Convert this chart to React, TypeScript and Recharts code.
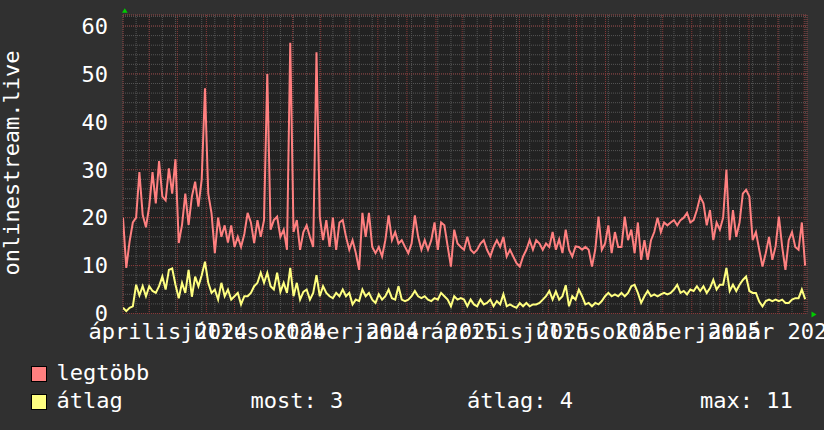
import React from 'react'
import { LineChart, Line, XAxis, YAxis, CartesianGrid } from 'recharts'

const FONT = '"DejaVu Sans Mono", monospace'
const DAY_MS = 86400000
const START_UTC = Date.UTC(2024, 2, 4)
const RANGE_DAYS = 730
const STEP_DAYS = 3.5
const Y_MAX = 62.3

// legtöbb (max) series, one value per 3.5 days from 2024-03-04
const legtobb = [
    20, 9.5, 15, 19, 20, 29.5, 20.6, 18, 22.4, 29.5,
    23, 31.8, 24.4, 23.6, 30.3, 25, 32.2, 14.7, 18.5, 25,
    18.5, 24.4, 27.5, 22.3, 28, 47, 25, 20.9, 12.6, 20,
    16, 18.4, 14.8, 18.4, 13.9, 16, 13.9, 16.6, 21, 19,
    14.7, 19.5, 16, 19.5, 50, 17.5, 19.5, 20.2, 16, 17.5,
    13.3, 56.5, 17, 19.5, 13.3, 17, 18.4, 16, 13.9, 54.5,
    20.2, 15.3, 19.5, 13.9, 20, 13.3, 19, 19.5, 16, 13.3,
    15.3, 12.6, 9.1, 21, 16, 21, 13.9, 12.6, 13.9, 11.9,
    15.3, 20.5, 15.3, 17, 14.6, 15.3, 13.9, 12.6, 14.6, 20.5,
    16, 13.3, 15.3, 13.3, 15.3, 19, 13.3, 19, 18.4, 14,
    9.8, 17.5, 14.6, 13.9, 13.3, 16, 13.3, 12.6, 13.3, 14.6,
    15.3, 13.3, 11.9, 13.9, 15.3, 13.9, 16, 11.9, 13.3, 11.9,
    10.5, 9.8, 11.9, 13.3, 15.3, 13.3, 15.3, 14.6, 13.3, 14.6,
    13.9, 17, 13.3, 15.5, 12.6, 17.5, 13.3, 11.9, 14, 13.9,
    13.3, 13.9, 13.3, 9.8, 13.3, 20.2, 13.3, 14.6, 18.4, 12.6,
    17, 13.9, 13.9, 20.2, 15.3, 17.5, 12.6, 19, 11.2, 15.3,
    11.2, 15.3, 17, 20, 17, 19, 18.4, 19, 19.5, 18.4,
    19.5, 20, 21, 19, 19.5, 21.6, 24.4, 23, 18.4, 21.6,
    15.3, 19, 17.5, 20, 30, 15.3, 21.6, 16, 19, 25,
    25.8, 24.4, 15.3, 17, 13.3, 9.8, 12.6, 16, 11.2, 14,
    20.2, 13.9, 9.1, 15.3, 17, 13.9, 13.3, 19, 10,
]

// átlag (average) series
const atlag = [
    1.2, 0.5, 1.2, 1.5, 6, 3.8, 5.7, 3.6, 5.7, 4.7,
    4.3, 5.7, 7.7, 5, 9.1, 9.4, 6, 3.2, 6.4, 4.3,
    9.1, 3.5, 7.7, 5.7, 8, 10.8, 6.4, 4.3, 5, 2.9,
    6.4, 3.6, 5, 2.9, 3.6, 4.3, 1.9, 3.6, 3.6, 4.3,
    5.7, 6.4, 8.5, 6.4, 8.5, 5.7, 5, 8.5, 4.5, 6.4,
    4.3, 9.5, 3.6, 6.4, 2.9, 4.5, 5, 2.9, 4.3, 8,
    3.6, 5.7, 4.3, 3.6, 3.2, 4.3, 3.6, 5, 3.6, 4.3,
    1.9, 2.9, 2.6, 5, 3.6, 4.3, 2.9, 2.2, 4, 2.9,
    3.6, 5, 3.2, 2.9, 5.7, 2.9, 2.6, 2.9, 3.6, 4.7,
    3.6, 3.2, 3.6, 2.9, 2.6, 3.2, 2.9, 4.3, 3.6, 2.9,
    1.5, 3.6, 2.9, 3.2, 2.9, 1.5, 2.9, 1.9, 1.5, 2.9,
    1.9, 2.2, 2.9, 1.5, 2.6, 1.9, 4, 1.5, 1.9, 1.5,
    1.2, 2.2, 1.5, 2.2, 1.5, 1.9, 1.9, 2.2, 2.9, 3.6,
    4.7, 2.9, 4.6, 2.9, 3.6, 5.9, 1.5, 3.6, 2.9, 5,
    3.6, 1.9, 2.2, 1.5, 2.2, 1.9, 2.6, 3.6, 4.3, 3.6,
    4, 3.6, 4.3, 3.6, 4.3, 5.7, 6, 4.3, 2.2, 3.6,
    4.7, 3.6, 4, 3.6, 4, 4.3, 4, 4.3, 5, 6,
    4.3, 4.7, 4, 5, 4.7, 5.7, 4.7, 5.7, 4.3, 5.3,
    7, 5, 6, 6, 9.5, 4.7, 6, 4.7, 6, 7,
    7.7, 4.7, 4.3, 4.3, 2.5, 1.5, 2.6, 2.9, 2.6, 2.9,
    2.6, 2.9, 2.2, 2.2, 2.9, 3.2, 3.2, 5, 3,
]

const monthNames = ['január', 'február', 'március', 'április', 'május', 'június',
    'július', 'augusztus', 'szeptember', 'október', 'november', 'december']
const labelMonths: [number, number][] = [
    [2024, 3], [2024, 6], [2024, 9], [2025, 0], [2025, 3], [2025, 6], [2025, 9], [2026, 0],
]
const yTicks = [0, 10, 20, 30, 40, 50, 60]
const yMinorTicks = [0, 2, 4, 6, 8, 10, 12, 14, 16, 18, 20, 22, 24, 26, 28, 30, 32, 34, 36, 38, 40, 42, 44, 46, 48, 50, 52, 54, 56, 58, 60, 62]

const seriesNames = ['legtöbb', 'átlag']
const seriesColors = ['#ff8080', '#ffff80']

const dayOf = (y: number, m: number, d = 1) => (Date.UTC(y, m, d) - START_UTC) / DAY_MS

const sampleDays = legtobb.map((_, i) => i * STEP_DAYS)
const data = sampleDays.map((day, i) => ({ day, legtobb: legtobb[i], atlag: atlag[i] }))

const majorGridDays: number[] = []
for (let k = 0; k < 24; k++) {
    const d = dayOf(2024, 3 + k)
    if (d < RANGE_DAYS) majorGridDays.push(d)
}
const minorGridDays: number[] = []
for (let d = 14; d < RANGE_DAYS; d += 14) minorGridDays.push(d)

// labels sit a little after the quarter start, like rrdtool does
const LABEL_SHIFT = 20
const labelDays = labelMonths.map(([y, m]) => dayOf(y, m) + LABEL_SHIFT)
const xLabels = labelMonths.map(([y, m]) => `${monthNames[m]} ${y}`)

const last = atlag[atlag.length - 1]
const avg = atlag.reduce((s, v) => s + v, 0) / atlag.length
const max = Math.max(...atlag)

const textStyle = { fill: '#ffffff', fontFamily: FONT }

const Overlay = () => (
    <svg width={824} height={430} style={{ position: 'absolute', left: 0, top: 0, pointerEvents: 'none' }}>
        <text transform='translate(18.5,163) rotate(-90)' textAnchor='middle' fontSize={22} {...textStyle}>
            onlinestream.live
        </text>
        <polygon points='122,12.7 127.7,12.7 124.8,8.3' fill='#00cc00' />
        <polygon points='811.5,311.5 811.5,317.5 816.5,314.5' fill='#00cc00' />

        <rect x={31.5} y={366.5} width={15} height={15} fill={seriesColors[0]} stroke='#000' />
        <text x={56.5} y={380} fontSize={22} {...textStyle}>{seriesNames[0]}</text>

        <rect x={31.5} y={394.5} width={15} height={15} fill={seriesColors[1]} stroke='#000' />
        <text x={56.5} y={408} fontSize={22} {...textStyle}>{seriesNames[1]}</text>
        <text x={250.5} y={408} fontSize={22} {...textStyle}>most: {Math.round(last)}</text>
        <text x={467} y={408} fontSize={22} {...textStyle}>átlag: {Math.round(avg)}</text>
        <text x={700} y={408} fontSize={22} {...textStyle}>max: {Math.round(max)}</text>
    </svg>
)

const App = () => {
    return (
        <div style={{ position: 'relative', width: 824, height: 430, background: '#303030', overflow: 'hidden' }}>
            <style>{'body{margin:0;background:#303030}'}</style>
            <LineChart
                width={824}
                height={430}
                data={data}
                margin={{ top: 15, right: 17, bottom: 86.5, left: 0 }}
            >
                <CartesianGrid xAxisId='minorX' yAxisId='minorY' fill='#222222' fillOpacity={1}
                    stroke='#555555' strokeDasharray='1 1' />
                <CartesianGrid xAxisId='majorX' yAxisId='val'
                    stroke='#8a3838' strokeDasharray='1 1' />

                <YAxis yAxisId='val' type='number' domain={[0, Y_MAX]} allowDataOverflow ticks={yTicks}
                    interval={0} width={123} tick={{ ...textStyle, fontSize: 22 }} tickLine={false}
                    axisLine={false} tickSize={0} tickMargin={15} />
                <YAxis yAxisId='minorY' type='number' domain={[0, Y_MAX]} allowDataOverflow ticks={yMinorTicks}
                    interval={0} width={0} hide />

                <XAxis xAxisId='lab' dataKey='day' type='number' domain={[0, RANGE_DAYS]} allowDataOverflow
                    ticks={labelDays} interval={0} tickFormatter={(_v: number, i: number) => xLabels[i]}
                    tick={{ ...textStyle, fontSize: 22 }} tickLine={false} axisLine={false}
                    tickSize={0} tickMargin={10} height={30} />
                <XAxis xAxisId='minorX' dataKey='day' type='number' domain={[0, RANGE_DAYS]} allowDataOverflow
                    ticks={minorGridDays} interval={0} height={0} hide />
                <XAxis xAxisId='majorX' dataKey='day' type='number' domain={[0, RANGE_DAYS]} allowDataOverflow
                    ticks={majorGridDays} interval={0} height={0} hide />

                <Line xAxisId='lab' yAxisId='val' type='linear' dataKey='legtobb' name={seriesNames[0]}
                    stroke={seriesColors[0]} strokeWidth={2} dot={false} isAnimationActive={false} />
                <Line xAxisId='lab' yAxisId='val' type='linear' dataKey='atlag' name={seriesNames[1]}
                    stroke={seriesColors[1]} strokeWidth={2} dot={false} isAnimationActive={false} />
            </LineChart>
            <Overlay />
        </div>
    )
}

export default App
